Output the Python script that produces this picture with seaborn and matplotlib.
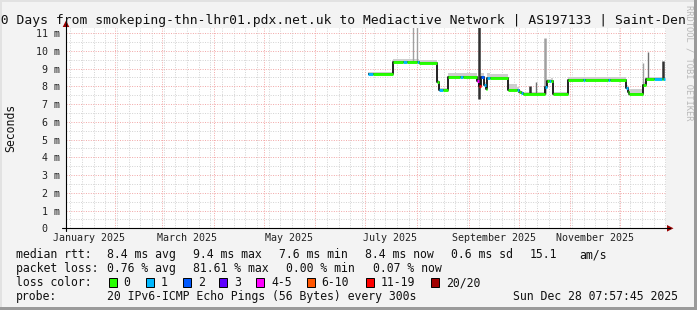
import matplotlib
matplotlib.use("Agg")
import matplotlib.pyplot as plt
import matplotlib.dates as mdates
from matplotlib.patches import Rectangle, Polygon
from matplotlib.lines import Line2D
from matplotlib.ticker import MultipleLocator, FixedLocator, NullFormatter
from matplotlib.transforms import blended_transform_factory
import seaborn as sns
import pandas as pd

# ---------------- data ----------------
title = "360 Days from smokeping-thn-lhr01.pdx.net.uk to Mediactive Network | AS197133 | Saint-Den"
x_start = "2025-01-02 07:57:45"
x_end = "2025-12-28 07:57:45"
month_labels = ["January 2025", "March 2025", "May 2025", "July 2025", "September 2025", "November 2025"]
month_label_dates = ["2025-01-16", "2025-03-16", "2025-05-16", "2025-07-16", "2025-09-16", "2025-11-16"]
y_ticks = [0, 1, 2, 3, 4, 5, 6, 7, 8, 9, 10, 11]
y_tick_labels = ["0  ", "1 m", "2 m", "3 m", "4 m", "5 m", "6 m", "7 m", "8 m", "9 m", "10 m", "11 m"]

# median rtt (ms) step segments, coloured by loss class
seg_t0 = ["2025-07-02 17:00", "2025-07-05 17:00", "2025-07-17 15:40", "2025-07-23 17:00", "2025-07-25 18:00",
          "2025-08-01 05:30", "2025-08-02 03:00", "2025-08-13 05:30", "2025-08-14 10:00", "2025-08-16 08:00",
          "2025-08-19 08:00", "2025-08-26 17:30", "2025-08-28 08:00", "2025-09-06 05:30", "2025-09-07 07:30",
          "2025-09-08 01:00", "2025-09-09 20:00", "2025-09-11 03:30", "2025-09-12 05:30", "2025-09-13 17:30",
          "2025-09-24 17:00", "2025-09-29 18:00", "2025-10-01 03:00", "2025-10-02 03:30", "2025-10-03 08:00",
          "2025-10-16 17:30", "2025-10-18 02:40", "2025-10-18 23:00", "2025-10-20 03:30", "2025-10-21 08:00",
          "2025-10-30 17:00", "2025-11-08 17:00", "2025-11-09 17:00", "2025-11-23 12:00", "2025-11-24 20:00",
          "2025-12-04 08:00", "2025-12-05 17:00", "2025-12-06 10:00", "2025-12-14 08:00", "2025-12-16 01:00",
          "2025-12-21 03:00", "2025-12-25 18:00", "2025-12-26 15:30"]
seg_t1 = seg_t0[1:] + ["2025-12-27 17:30"]
seg_rtt = [8.68, 8.68, 9.36, 9.36, 9.36,
           9.36, 9.33, 8.26, 7.79, 7.79,
           8.52, 8.52, 8.52, 8.30, 8.03,
           8.54, 8.07, 7.83, 8.45, 8.45,
           7.79, 7.79, 7.70, 7.62, 7.56,
           7.98, 8.30, 8.30, 8.30, 7.57,
           8.36, 8.36, 8.36, 8.35, 8.36,
           7.89, 7.70, 7.58, 8.07, 8.43,
           8.40, 8.43, 8.43]
seg_loss = ["1", "0", "0", "1", "0",
            "1", "0", "0", "1", "0",
            "0", "1", "0", "4-5", "11-19",
            "2", "1", "0", "1", "0",
            "0", "1", "0", "1", "0",
            "1", "0", "1", "0", "0",
            "0", "1", "0", "1", "0",
            "1", "0", "0", "0", "0",
            "1", "0", "1"]
seg_smoke = [0.14, 0.14, 0.16, 0.16, 0.20,
             0.16, 0.16, 0.10, 0.12, 0.12,
             0.25, 0.22, 0.22, 0.20, 0.20,
             0.20, 0.15, 0.12, 0.30, 0.22,
             0.35, 0.15, 0.10, 0.10, 0.12,
             0.15, 0.12, 0.12, 0.18, 0.12,
             0.16, 0.16, 0.16, 0.20, 0.16,
             0.20, 0.25, 0.25, 0.15, 0.12,
             0.12, 0.12, 0.12]

# single-interval smoke spikes
spike_t = ["2025-07-29 17:00", "2025-08-01 05:30", "2025-09-07 02:00", "2025-10-07 17:30", "2025-10-11 08:00",
           "2025-10-16 17:30", "2025-12-14 17:00", "2025-12-17 17:00", "2025-12-26 15:30"]
spike_lo = [9.36, 9.36, 7.27, 7.56, 7.56, 7.56, 8.07, 8.43, 8.43]
spike_hi = [11.5, 11.5, 11.5, 8.02, 8.26, 10.70, 9.30, 9.92, 9.43]
spike_kind = ["light", "light", "dark", "dark", "mid", "lightwide", "light", "mid", "dark"]

loss_classes = ["0", "1", "2", "3", "4-5", "6-10", "11-19", "20/20"]
loss_colors = ["#26ff00", "#00b8ff", "#0059ff", "#5e00ff", "#ff00ff", "#ff5500", "#ff0000", "#a10000"]

stat_rows = [
    ["median rtt:", "8.4 ms avg", "9.4 ms max", "7.6 ms min", "8.4 ms now", "0.6 ms sd", "15.1", "am/s"],
    ["packet loss:", "0.76 % avg", "81.61 % max", "0.00 % min", "0.07 % now"],
]
loss_label = "loss color:"
probe_label = "probe:"
probe_text = "20 IPv6-ICMP Echo Pings (56 Bytes) every 300s"
stamp_text = "Sun Dec 28 07:57:45 2025"
y_label = "Seconds"
watermark = "RRDTOOL / TOBI OETIKER"

# ---------------- layout ----------------
W, H, DPI = 697, 310, 100
BG = "#f3f3f3"
MONO = ["DejaVu Sans Mono"]

sns.set_style("white")
plt.rcParams["font.family"] = MONO


def fx(px):
    return px / W


def fy(py):
    return 1 - py / H


fig = plt.figure(figsize=(W / DPI, H / DPI), dpi=DPI, facecolor=BG)
ax_l, ax_r, ax_t, ax_b = 66, 666, 28.3, 228.3
ax = fig.add_axes([fx(ax_l), fy(ax_b), (ax_r - ax_l) / W, (ax_b - ax_t) / H])
ax.set_facecolor("white")

t0 = pd.to_datetime(seg_t0)
t1 = pd.to_datetime(seg_t1)

# smoke band
for a, b, v, s in zip(t0, t1, seg_rtt, seg_smoke):
    ax.fill_between([a, b], [v - 0.04, v - 0.04], [v + s, v + s], color="#cecece", lw=0, zorder=2)

# spikes
spike_style = {"light": ("#a0a0a0", 1.0), "lightwide": ("#a0a0a0", 1.8), "mid": ("#707070", 1.0),
               "dark": ("#303030", 1.8)}
for t, lo, hi, k in zip(pd.to_datetime(spike_t), spike_lo, spike_hi, spike_kind):
    c, w = spike_style[k]
    ax.vlines(t, lo, hi, color=c, lw=w, zorder=3)

# black step line connecting median levels
step_x, step_y = [], []
for a, b, v in zip(t0, t1, seg_rtt):
    step_x += [a, b]
    step_y += [v, v]
step_df = pd.DataFrame({"t": step_x, "rtt": step_y})
sns.lineplot(data=step_df, x="t", y="rtt", sort=False, estimator=None, color="#111111", lw=1.3, ax=ax,
             zorder=4)

# coloured median by loss
rows = []
for i, (a, b, v, l) in enumerate(zip(t0, t1, seg_rtt, seg_loss)):
    rows.append({"t": a, "rtt": v, "seg": i, "loss": l})
    rows.append({"t": b, "rtt": v, "seg": i, "loss": l})
med_df = pd.DataFrame(rows)
pal = dict(zip(loss_classes, loss_colors))
sns.lineplot(data=med_df, x="t", y="rtt", units="seg", hue="loss", palette=pal, estimator=None,
             sort=False, lw=2.1, legend=False, ax=ax, zorder=5)
for ln in ax.lines:
    ln.set_solid_capstyle("butt")

# axes limits / grid
ax.set_xlim(pd.Timestamp(x_start), pd.Timestamp(x_end))
ax.set_ylim(0, 11.27)
ax.set_xlabel("")
ax.set_ylabel("")
MGRID = "#f2a6a6"
GRID = "#d2d2d2"
ax.xaxis.set_major_locator(mdates.MonthLocator())
ax.xaxis.set_minor_locator(mdates.WeekdayLocator(byweekday=mdates.SU))
ax.xaxis.set_major_formatter(NullFormatter())
ax.xaxis.set_minor_formatter(NullFormatter())
ax.yaxis.set_major_locator(FixedLocator(y_ticks))
ax.yaxis.set_minor_locator(MultipleLocator(0.5))
ax.set_yticklabels(y_tick_labels)
ax.grid(which="minor", color=GRID, lw=0.7, ls=(0, (1, 1.5)), zorder=0)
ax.grid(which="major", color=MGRID, lw=0.7, ls=(0, (1, 1.5)), zorder=1)
ax.set_axisbelow(True)
ax.tick_params(axis="x", which="major", length=2.5, width=0.7, color=MGRID, direction="out")
ax.tick_params(axis="x", which="minor", length=1.5, width=0.7, color=GRID, direction="out")
ax.tick_params(axis="y", which="major", length=2.8, width=0.7, color=MGRID, direction="out",
               labelsize=7.2, pad=1.6, labelcolor="#222222")
ax.tick_params(axis="y", which="minor", length=0)
for lab in ax.get_yticklabels():
    lab.set_family(MONO)
for s in ax.spines.values():
    s.set_visible(False)

# x labels (centred mid-month)
trans = blended_transform_factory(ax.transData, fig.transFigure)
for lab, d in zip(month_labels, month_label_dates):
    ax.text(pd.Timestamp(d), fy(241), lab, transform=trans, ha="center", va="baseline",
            fontsize=7.2, color="#222222", clip_on=False)

# axis lines + arrows
AX_RED = "#990000"
fig.add_artist(Line2D([fx(62), fx(670)], [fy(ax_b), fy(ax_b)], color="black", lw=0.8))
fig.add_artist(Line2D([fx(ax_l), fx(ax_l)], [fy(ax_b + 3), fy(24)], color="black", lw=0.8))
fig.add_artist(Polygon([[fx(673.5), fy(ax_b)], [fx(667), fy(ax_b - 3.3)], [fx(667), fy(ax_b + 3.3)]],
                       closed=True, color=AX_RED, lw=0))
fig.add_artist(Polygon([[fx(ax_l), fy(20.5)], [fx(ax_l - 3.3), fy(27)], [fx(ax_l + 3.3), fy(27)]],
                       closed=True, color=AX_RED, lw=0))

# title, y-label, watermark
fig.text(fx(-14.6), fy(24), title, ha="left", va="baseline", fontsize=9.35, color="#111111")
fig.text(fx(10.5), fy(128.3), y_label, rotation=90, ha="center", va="center", fontsize=8.3,
         color="#111111")
fig.text(fx(689), fy(5), watermark, rotation=270, ha="center", va="top", fontsize=6.3,
         color="#b8b8b8")

# legend / stats
TXT = "#111111"
LFS = 8.3
row1_x = [16, 107.3, 193.3, 279.3, 365, 451, 530, 579.3]
row2_x = [16, 107.3, 193.3, 286, 372.7]
for s, x in zip(stat_rows[0], row1_x):
    fig.text(fx(x), fy(258), s, ha="left", va="baseline", fontsize=LFS, color=TXT)
for s, x in zip(stat_rows[1], row2_x):
    fig.text(fx(x), fy(272), s, ha="left", va="baseline", fontsize=LFS, color=TXT)
fig.text(fx(16), fy(286.3), loss_label, ha="left", va="baseline", fontsize=LFS, color=TXT)
box_x = [108.7, 146, 182.7, 219.3, 256, 306.7, 365.7, 430.7]
for cls, col, bx in zip(loss_classes, loss_colors, box_x):
    fig.add_artist(Rectangle((fx(bx), fy(286.8)), 8 / W, 9 / H, transform=fig.transFigure,
                             facecolor=col, edgecolor="black", lw=0.7))
    fig.text(fx(bx + 15), fy(286.3), cls, ha="left", va="baseline", fontsize=LFS, color=TXT)
fig.text(fx(16), fy(300), probe_label, ha="left", va="baseline", fontsize=LFS, color=TXT)
fig.text(fx(107.3), fy(300), probe_text, ha="left", va="baseline", fontsize=LFS, color=TXT)
fig.text(fx(513.3), fy(300), stamp_text, ha="left", va="baseline", fontsize=LFS, color=TXT)

# frame shading
fig.add_artist(Rectangle((fx(694), 0), 3 / W, 1, transform=fig.transFigure, color="#9a9a9a", lw=0))
fig.add_artist(Rectangle((0, 0), 1, 3 / H, transform=fig.transFigure, color="#9a9a9a", lw=0))
fig.add_artist(Rectangle((0, fy(2)), fx(694), 2 / H, transform=fig.transFigure, color="#e2e2e2", lw=0))
fig.add_artist(Rectangle((0, fy(307)), 2 / W, 305 / H, transform=fig.transFigure, color="#e2e2e2", lw=0))

fig.savefig("out.png", dpi=DPI, facecolor=BG)
